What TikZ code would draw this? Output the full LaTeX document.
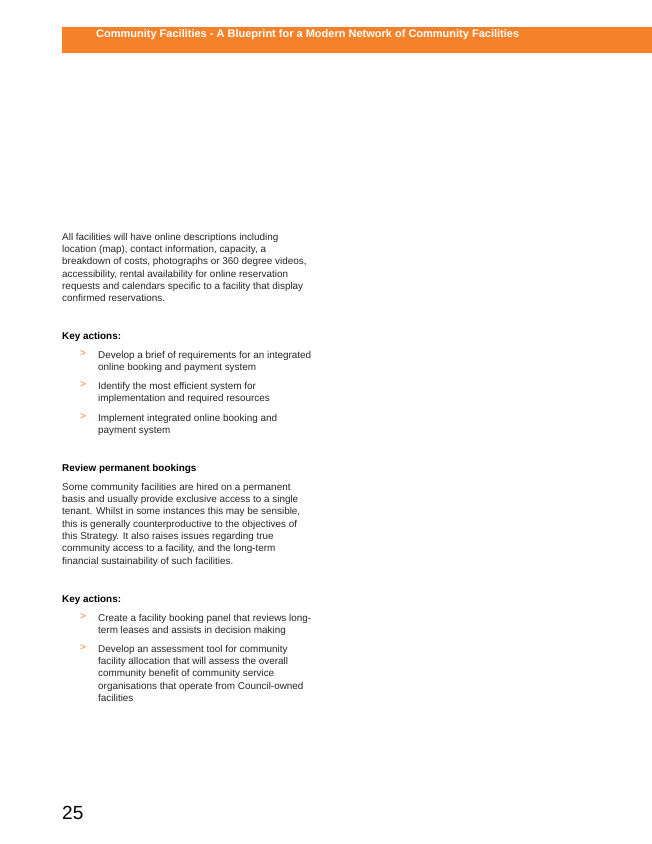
\documentclass[tikz,border=0pt]{standalone}
\usepackage{fontspec}
\setmainfont{Liberation Sans}
\usetikzlibrary{positioning}
\definecolor{brandorange}{HTML}{F5822A}
\tikzset{
  body/.style={anchor=north west, align=left, inner sep=0pt, font=\fontsize{9.9}{12.3}\selectfont, text=black!85},
  heading/.style={anchor=north west, inner sep=0pt, font=\fontsize{9.9}{12.3}\selectfont\bfseries},
  arrowmark/.style={anchor=north west, inner sep=0pt, font=\fontsize{9.9}{12.3}\selectfont, text=brandorange}
}
\begin{document}
\begin{tikzpicture}[x=1pt,y=-1pt]
  \useasboundingbox[fill=white] (0,0) rectangle (652,844);
  % Header bar
  \fill[brandorange] (62,27) rectangle (652,53);
  \node[anchor=west, inner sep=0pt, text=white, font=\fontsize{11}{13}\selectfont\bfseries] (title) at (96,34.5)
    {Community Facilities - A Blueprint for a Modern Network of Community Facilities};

  % Intro
  \node[body] (intro) at (62,233) {All facilities will have online descriptions including\\location (map), contact information, capacity, a\\breakdown of costs, photographs or 360 degree videos,\\accessibility, rental availability for online reservation\\requests and calendars specific to a facility that display\\confirmed reservations.};

  % Key actions 1
  \node[heading] (key1) at (62,332) {Key actions:};
  \node[arrowmark] (m1) at (80,351) {>};
  \node[body] (a1) at (98,351) {Develop a brief of requirements for an integrated\\online booking and payment system};
  \node[arrowmark] (m2) at (80,382) {>};
  \node[body] (a2) at (98,382) {Identify the most efficient system for\\implementation and required resources};
  \node[arrowmark] (m3) at (80,414) {>};
  \node[body] (a3) at (98,414) {Implement integrated online booking and\\payment system};

  % Permanent bookings
  \node[heading] (perm) at (62,464) {Review permanent bookings};
  \node[body] (permtext) at (62,483) {Some community facilities are hired on a permanent\\basis and usually provide exclusive access to a single\\tenant. Whilst in some instances this may be sensible,\\this is generally counterproductive to the objectives of\\this Strategy. It also raises issues regarding true\\community access to a facility, and the long-term\\financial sustainability of such facilities.};

  % Key actions 2
  \node[heading] (key2) at (62,595) {Key actions:};
  \node[arrowmark] (m4) at (80,614) {>};
  \node[body] (a4) at (98,614) {Create a facility booking panel that reviews long-\\term leases and assists in decision making};
  \node[arrowmark] (m5) at (80,645) {>};
  \node[body] (a5) at (98,645) {Develop an assessment tool for community\\facility allocation that will assess the overall\\community benefit of community service\\organisations that operate from Council-owned\\facilities};

  % Page number
  \node[anchor=north west, inner sep=0pt, font=\fontsize{19}{21}\selectfont] (page) at (62,806) {25};
\end{tikzpicture}
\end{document}
